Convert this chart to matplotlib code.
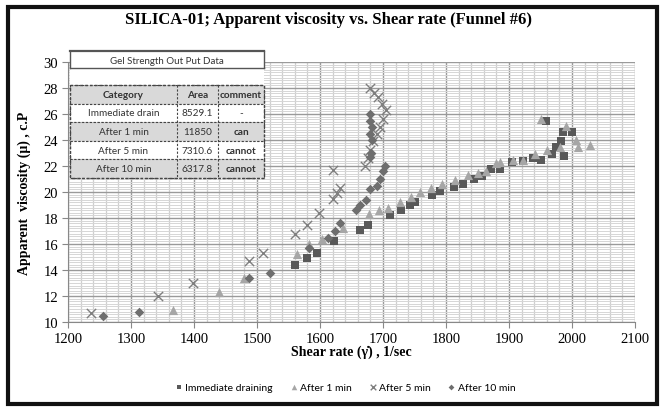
import matplotlib
matplotlib.use("Agg")
import matplotlib.pyplot as plt
from matplotlib.ticker import MultipleLocator
from matplotlib.patches import Rectangle

# ---- data -------------------------------------------------------------
imm_x = [1560, 1580, 1596, 1623, 1663, 1676, 1711, 1728, 1743, 1750, 1777,
         1790, 1812, 1827, 1845, 1857, 1872, 1886, 1904, 1922, 1938, 1950,
         1968, 1975, 1982, 1985, 2000, 1987, 1958]
imm_y = [14.4, 14.9, 15.3, 16.2, 17.1, 17.5, 18.2, 18.6, 19.0, 19.2, 19.8,
         20.1, 20.4, 20.6, 21.0, 21.2, 21.8, 21.8, 22.3, 22.4, 22.6, 22.5,
         22.9, 23.5, 23.9, 24.6, 24.6, 22.8, 25.5]

m1_x = [1367, 1439, 1480, 1564, 1583, 1603, 1637, 1678, 1693, 1708, 1727,
        1745, 1759, 1776, 1793, 1814, 1835, 1850, 1864, 1880, 1886, 1907,
        1923, 1942, 1960, 1981, 2007, 2010, 2029, 1991, 1950]
m1_y = [10.9, 12.3, 13.4, 15.2, 16.0, 16.4, 17.2, 18.3, 18.6, 18.8, 19.2,
        19.6, 20.0, 20.3, 20.6, 20.9, 21.3, 21.5, 21.6, 22.2, 22.3, 22.5,
        22.5, 22.9, 23.2, 23.5, 24.0, 23.5, 23.6, 25.1, 25.6]

m5_x = [1237, 1343, 1398, 1488, 1510, 1560, 1580, 1598, 1620, 1627, 1631,
        1620, 1672, 1676, 1680, 1684, 1690, 1695, 1700, 1705, 1698, 1692,
        1685, 1680]
m5_y = [10.7, 12.0, 13.0, 14.7, 15.3, 16.8, 17.5, 18.4, 19.5, 19.9, 20.3,
        21.7, 22.0, 22.6, 23.2, 23.9, 24.5, 25.0, 25.6, 26.3, 26.8, 27.3,
        27.6, 28.0]

m10_x = [1256, 1313, 1488, 1520, 1583, 1613, 1624, 1632, 1657, 1663, 1673,
         1680, 1690, 1695, 1700, 1703, 1680, 1681, 1683, 1680, 1682, 1680,
         1680]
m10_y = [10.45, 10.75, 13.4, 13.8, 15.7, 16.5, 17.0, 17.6, 18.6, 19.0, 19.4,
         20.2, 20.5, 21.0, 21.6, 22.0, 22.7, 23.0, 24.0, 24.5, 25.0, 25.5,
         26.0]

series_labels = ["Immediate draining", "After 1 min", "After 5 min", "After 10 min"]

# gel strength summary table
tbl_title = "Gel Strength Out Put Data"
tbl_header = ["Category", "Area", "comment"]
tbl_category = ["Immediate drain", "After 1 min", "After 5 min", "After 10 min"]
tbl_area = ["8529.1", "11850", "7310.6", "6317.8"]
tbl_comment = ["-", "can", "cannot", "cannot"]

# ---- figure -----------------------------------------------------------
W, H = 660, 410
fig = plt.figure(figsize=(W / 100, H / 100), dpi=100)
fig.patch.set_facecolor("white")

ax = fig.add_axes([68 / W, 1 - 323 / H, (635 - 68) / W, (323 - 63) / H])
ax.set_xlim(1200, 2100)
ax.set_ylim(10, 30)

ax.xaxis.set_major_locator(MultipleLocator(100))
ax.xaxis.set_minor_locator(MultipleLocator(20))
ax.yaxis.set_major_locator(MultipleLocator(2))
ax.yaxis.set_minor_locator(MultipleLocator(0.2))
ax.grid(which="minor", axis="y", color="#d6d6d6", lw=0.7)
ax.grid(which="minor", axis="x", color="#cfcfcf", lw=0.9)
ax.grid(which="major", color="#9a9a9a", lw=1.0)
ax.set_axisbelow(True)
for s in ["top", "right"]:
    ax.spines[s].set_visible(False)
for s in ["left", "bottom"]:
    ax.spines[s].set_color("#888888")
ax.tick_params(which="minor", length=0)
ax.tick_params(which="major", length=4, color="#888888", direction="out",
               labelsize=10.5, pad=3)
for lab in ax.get_xticklabels() + ax.get_yticklabels():
    lab.set_family("Liberation Serif")

ax.scatter(imm_x, imm_y, marker="s", s=32, color="#595959", zorder=3,
           label=series_labels[0], linewidths=0)
ax.scatter(m1_x, m1_y, marker="^", s=44, color="#a6a6a6", zorder=3,
           label=series_labels[1], linewidths=0)
ax.scatter(m5_x, m5_y, marker="x", s=45, color="#7f7f7f", zorder=3,
           label=series_labels[2], linewidths=1.0)
ax.scatter(m10_x, m10_y, marker="D", s=24, color="#6e6e6e", zorder=3,
           label=series_labels[3], linewidths=0)

ax.set_xlabel("Shear rate (γ̇) , 1/sec", family="Liberation Serif",
              fontweight="bold", fontsize=10, labelpad=0)
ax.set_ylabel("Apparent  viscosity (μ) , c.P", family="Liberation Serif",
              fontweight="bold", fontsize=10, labelpad=9)

fig.text(0.497, 1 - 20 / H, "SILICA-01; Apparent viscosity vs. Shear rate (Funnel #6)",
         ha="center", va="center", family="Liberation Serif",
         fontweight="bold", fontsize=12)

leg = fig.legend(loc="center", bbox_to_anchor=(345 / W, 1 - 388 / H), ncol=4,
                 frameon=False, prop={"family": "Lato", "size": 7.5},
                 handletextpad=0.2, handlelength=0.8, columnspacing=1.6,
                 markerscale=0.6)

# ---- overlay: table and outer frame (pixel coordinates) ---------------
ov = fig.add_axes([0, 0, 1, 1], facecolor="none")
ov.set_xlim(0, W)
ov.set_ylim(H, 0)
ov.axis("off")

ov.add_patch(Rectangle((8, 8), 649, 397, fill=False, lw=3, ec="#111111"))

tx0, tx1 = 70, 264
col_edges = [70, 177, 218, 264]
ov.add_patch(Rectangle((tx0, 52), tx1 - tx0, 34, fc="white", ec="none", zorder=2))
ov.plot([tx0, tx1], [52, 52], color="#555555", lw=1.6, zorder=3)
ov.plot([tx0, tx1], [69, 69], color="#555555", lw=1.0, zorder=3)
ov.plot([tx0, tx0], [52, 69], color="#555555", lw=1.0, zorder=3)
ov.plot([tx1, tx1], [52, 69], color="#555555", lw=1.0, zorder=3)
ov.text((tx0 + tx1) / 2, 61, tbl_title, ha="center", va="center",
        family="Lato", fontsize=7, color="#333333", zorder=4)

row_h = 18.6
top = 86
rows = [tbl_header] + [[c, a, m] for c, a, m in zip(tbl_category, tbl_area, tbl_comment)]
for i, row in enumerate(rows):
    y0 = top + i * row_h
    fc = "#d9d9d9" if i % 2 == 0 else "white"
    ov.add_patch(Rectangle((tx0, y0), tx1 - tx0, row_h, fc=fc, ec="#444444",
                           lw=0.8, ls=(0, (2, 1.5)), zorder=2))
    for j in range(3):
        cx = (col_edges[j] + col_edges[j + 1]) / 2
        bold = (i == 0) or (j == 2 and i > 1)
        ov.text(cx, y0 + row_h / 2, row[j], ha="center", va="center",
                family="Lato", fontsize=7.2, color="#333333",
                fontweight="bold" if bold else "normal", zorder=4)
for xe in col_edges[1:-1]:
    ov.plot([xe, xe], [top, top + row_h * len(rows)], color="#444444",
            lw=0.8, ls=(0, (2, 1.5)), zorder=3)
ov.add_patch(Rectangle((tx0, top), tx1 - tx0, row_h * len(rows), fill=False,
                       ec="#444444", lw=1.0, ls=(0, (2, 1.5)), zorder=3))

fig.savefig("out.png", dpi=100, facecolor="white")
